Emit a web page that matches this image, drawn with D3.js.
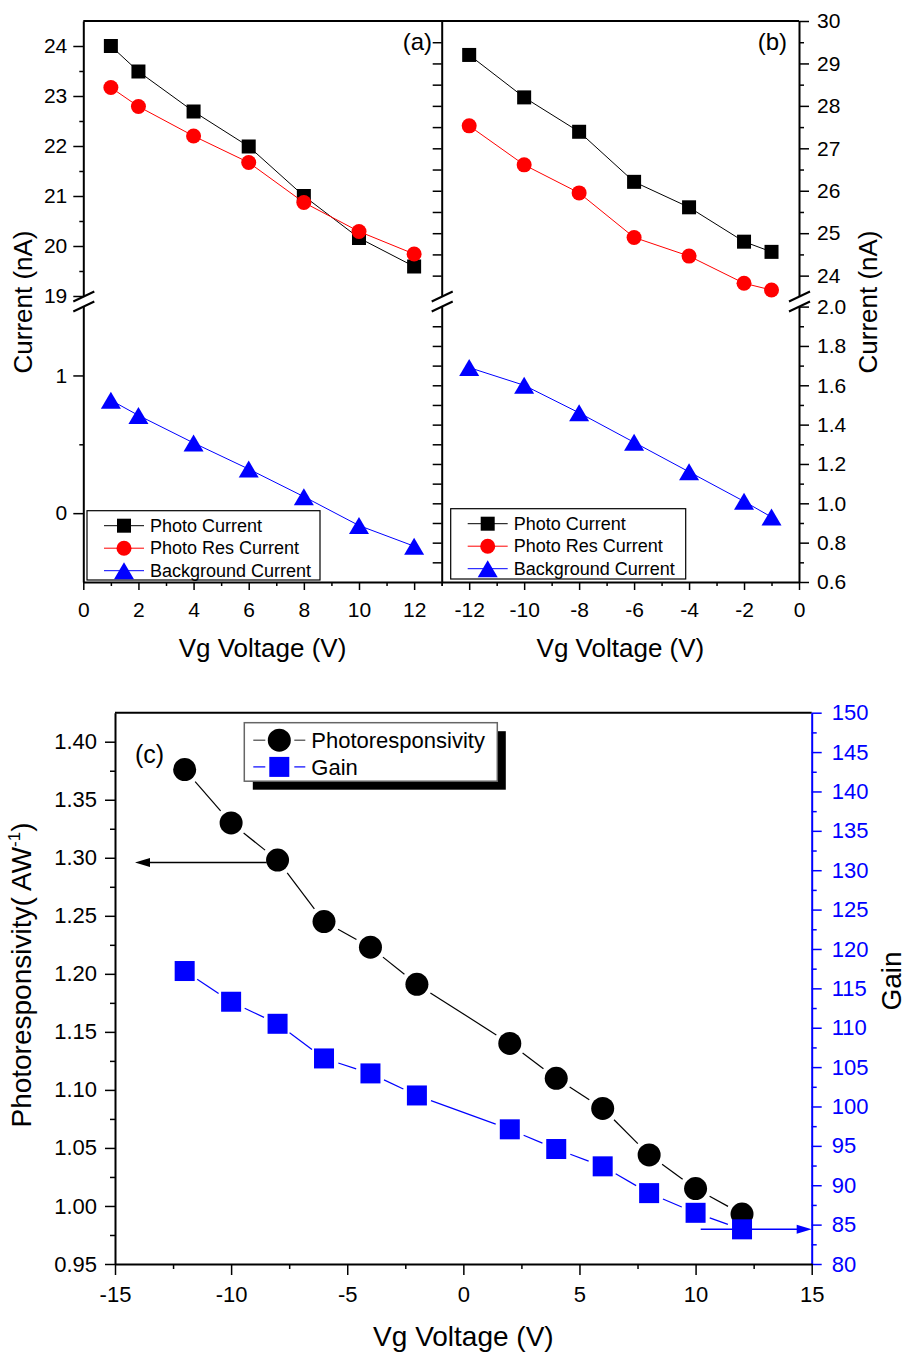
<!DOCTYPE html>
<html>
<head>
<meta charset="utf-8">
<script src="https://cdn.jsdelivr.net/npm/d3@7"></script>
<style>
  body { margin: 0; background: #fff; }
  svg { display: block; }
</style>
</head>
<body>
<svg id="chart" width="906" height="1354"></svg>
<script>
// ---- data ----
var vgA = [1, 2, 4, 6, 8, 10, 12];
var photoA = [24.0, 23.49, 22.69, 21.99, 21.0, 20.16, 19.59];
var resA = [23.17, 22.79, 22.2, 21.67, 20.87, 20.29, 19.84];
var bgA = [0.82, 0.71, 0.51, 0.32, 0.12, -0.09, -0.24];

var vgB = [-12, -10, -8, -6, -4, -2, -1];
var photoB = [29.2, 28.2, 27.39, 26.21, 25.61, 24.8, 24.56];
var resB = [27.53, 26.61, 25.95, 24.9, 24.46, 23.82, 23.66];
var bgB = [1.69, 1.6, 1.46, 1.31, 1.16, 1.01, 0.93];

var vgC = [-12, -10, -8, -6, -4, -2, 2, 4, 6, 8, 10, 12];
var respC = [1.376, 1.330, 1.298, 1.245, 1.223, 1.191, 1.140, 1.110, 1.084, 1.044, 1.015, 0.993];
var gainC = [117.2, 113.3, 110.5, 106.1, 104.2, 101.4, 97.1, 94.6, 92.4, 89.0, 86.5, 84.4];

var legendAB = ["Photo Current", "Photo Res Current", "Background Current"];
var legendC = ["Photoresponsivity", "Gain"];

var xTicksA = [0, 2, 4, 6, 8, 10, 12];
var xTicksB = [-12, -10, -8, -6, -4, -2, 0];
var yTicksAU = [19, 20, 21, 22, 23, 24];
var yTicksAL = [0, 1];
var yTicksBU = [24, 25, 26, 27, 28, 29, 30];
var yTicksBL = [0.6, 0.8, 1.0, 1.2, 1.4, 1.6, 1.8, 2.0];
var xTicksC = [-15, -10, -5, 0, 5, 10, 15];
var yTicksCL = [0.95, 1.00, 1.05, 1.10, 1.15, 1.20, 1.25, 1.30, 1.35, 1.40];
var yTicksCR = [80, 85, 90, 95, 100, 105, 110, 115, 120, 125, 130, 135, 140, 145, 150];

var FONT = '"Liberation Sans", Arial, Helvetica, sans-serif';
var svg = d3.select("#chart");

// ---- scales ----
var xA = d3.scaleLinear().domain([0, 13]).range([83.3, 441.7]);
var xB = d3.scaleLinear().domain([-13, 0]).range([441.7, 799]);
var yAU = d3.scaleLinear().domain([19, 24.5]).range([296, 21]);
var yAL = d3.scaleLinear().domain([-0.5, 1.5]).range([582, 306.6]);
var yBU = d3.scaleLinear().domain([23.52, 30]).range([296, 21]);
var yBL = d3.scaleLinear().domain([0.6, 2.0]).range([582, 306.6]);

var xC = d3.scaleLinear().domain([-15, 15]).range([115, 811.7]);
var yCL = d3.scaleLinear().domain([0.95, 1.425]).range([1264, 712.7]);
var yCR = d3.scaleLinear().domain([80, 150]).range([1264, 712.7]);

function hyph(d) { return d < 0 ? "-" + Math.abs(d) : String(d); }

function styleAxis(sel, fs, color) {
  sel.attr("font-family", FONT).attr("font-size", fs);
  sel.select(".domain").attr("stroke", color).attr("stroke-width", 2);
  sel.selectAll(".tick line").attr("stroke", color).attr("stroke-width", 1.5);
  sel.selectAll(".tick text").attr("fill", color);
  return sel;
}
function addAxis(axis, tx, ty, fs, color) {
  var g = svg.append("g").attr("transform", "translate(" + tx + "," + ty + ")").call(axis);
  return styleAxis(g, fs, color || "#000");
}
function addMinor(axis, tx, ty, color) {
  var g = svg.append("g").attr("transform", "translate(" + tx + "," + ty + ")").call(axis);
  g.select(".domain").remove();
  g.selectAll(".tick line").attr("stroke", color || "#000").attr("stroke-width", 1.5);
  return g;
}
function range2(a, b, s) { return d3.range(0, Math.round((b - a) / s) + 1).map(function(i) { return +(a + i * s).toFixed(4); }); }

// ---- panels (a) and (b) axes ----
var axLeftA = xA.range()[0], axMid = xA.range()[1], axRightB = xB.range()[1];

// top border
svg.append("line").attr("x1", axLeftA).attr("x2", axRightB).attr("y1", 21).attr("y2", 21)
  .attr("stroke", "#000").attr("stroke-width", 2);

// (a) left axis, upper and lower pieces
addAxis(d3.axisLeft(yAU).tickValues(yTicksAU).tickSize(10).tickSizeOuter(0).tickPadding(6).tickFormat(hyph), axLeftA, 0, 21);
addMinor(d3.axisLeft(yAU).tickValues([19.5, 20.5, 21.5, 22.5, 23.5]).tickSize(4).tickFormat(""), axLeftA, 0);
addAxis(d3.axisLeft(yAL).tickValues(yTicksAL).tickSize(10).tickSizeOuter(0).tickPadding(6).tickFormat(hyph), axLeftA, 0, 21);
addMinor(d3.axisLeft(yAL).tickValues([0.5]).tickSize(4).tickFormat(""), axLeftA, 0);

// shared line: (b) scale, ticks pointing left
addAxis(d3.axisLeft(yBU).tickValues(range2(24, 29.5, 0.5)).tickSize(9).tickSizeOuter(0).tickFormat(""), axMid, 0, 21);
addAxis(d3.axisLeft(yBL).tickValues(range2(0.7, 1.9, 0.1)).tickSize(9).tickSizeOuter(0).tickFormat(""), axMid, 0, 21);

// (b) right axis
addAxis(d3.axisRight(yBU).tickValues(yTicksBU).tickSize(10).tickSizeOuter(0).tickPadding(8).tickFormat(hyph), axRightB, 0, 21);
addMinor(d3.axisRight(yBU).tickValues(range2(24.5, 29.5, 1)).tickSize(5).tickFormat(""), axRightB, 0);
addAxis(d3.axisRight(yBL).tickValues(yTicksBL).tickSize(10).tickSizeOuter(0).tickPadding(8).tickFormat(d3.format(".1f")), axRightB, 0, 21);
addMinor(d3.axisRight(yBL).tickValues(range2(0.7, 1.9, 0.2)).tickSize(5).tickFormat(""), axRightB, 0);

// bottom axes
addAxis(d3.axisBottom(xA).tickValues(xTicksA).tickSize(8).tickSizeOuter(0).tickPadding(12).tickFormat(hyph), 0, 582, 21);
addMinor(d3.axisBottom(xA).tickValues([1, 3, 5, 7, 9, 11, 13]).tickSize(4).tickFormat(""), 0, 582);
addAxis(d3.axisBottom(xB).tickValues(xTicksB).tickSize(8).tickSizeOuter(0).tickPadding(12).tickFormat(hyph), 0, 582, 21);
addMinor(d3.axisBottom(xB).tickValues([-13, -11, -9, -7, -5, -3, -1]).tickSize(4).tickFormat(""), 0, 582);

// axis break marks
[axLeftA, axMid, axRightB].forEach(function(x) {
  [296.5, 306.5].forEach(function(y) {
    svg.append("line").attr("x1", x - 10).attr("y1", y + 5).attr("x2", x + 11).attr("y2", y - 5)
      .attr("stroke", "#000").attr("stroke-width", 2);
  });
});

// ---- markers ----
function marker(g, shape, cx, cy, color, s) {
  if (shape === "square") {
    g.append("rect").attr("x", cx - s / 2).attr("y", cy - s / 2).attr("width", s).attr("height", s).attr("fill", color);
  } else if (shape === "circle") {
    g.append("circle").attr("cx", cx).attr("cy", cy).attr("r", s / 2).attr("fill", color);
  } else {
    var h = s * 0.85;
    g.append("path").attr("d", "M" + cx + "," + (cy - h / 2) + "L" + (cx + s / 2) + "," + (cy + h / 2) + "L" + (cx - s / 2) + "," + (cy + h / 2) + "Z")
      .attr("fill", color);
  }
}

function series(xs, ys, x, y, color, shape, size) {
  var g = svg.append("g");
  var pts = xs.map(function(v, i) { return [x(v), y(ys[i])]; });
  g.append("path").attr("d", d3.line()(pts)).attr("fill", "none").attr("stroke", color).attr("stroke-width", 1);
  pts.forEach(function(p) { marker(g, shape, p[0], p[1], color, size); });
}

series(vgA, photoA, xA, yAU, "#000", "square", 14);
series(vgA, resA, xA, yAU, "#ff0000", "circle", 15);
series(vgA, bgA, xA, yAL, "#0000ff", "triangle", 20);

series(vgB, photoB, xB, yBU, "#000", "square", 14);
series(vgB, resB, xB, yBU, "#ff0000", "circle", 15);
series(vgB, bgB, xB, yBL, "#0000ff", "triangle", 20);

// ---- legends (a), (b) ----
var legStyle = [["#000", "square", 14], ["#ff0000", "circle", 15], ["#0000ff", "triangle", 20]];
function legendAB_(x0, y0, w, h) {
  var g = svg.append("g");
  g.append("rect").attr("x", x0).attr("y", y0).attr("width", w).attr("height", h)
    .attr("fill", "#fff").attr("stroke", "#000").attr("stroke-width", 1.2);
  legendAB.forEach(function(name, i) {
    var cy = y0 + 15 + i * 22.5;
    var st = legStyle[i];
    g.append("line").attr("x1", x0 + 17).attr("x2", x0 + 57).attr("y1", cy).attr("y2", cy)
      .attr("stroke", st[0]).attr("stroke-width", 1);
    marker(g, st[1], x0 + 37, cy, st[0], st[2]);
    g.append("text").attr("x", x0 + 63).attr("y", cy + 6).attr("font-family", FONT).attr("font-size", 18)
      .text(name);
  });
}
legendAB_(87, 510.7, 233, 69.3);
legendAB_(450.7, 508.7, 235, 70.3);

// ---- titles (a), (b) ----
function txt(x, y, s, fs, anchor, rot, color) {
  var t = svg.append("text").attr("font-family", FONT).attr("font-size", fs)
    .attr("text-anchor", anchor || "start").attr("fill", color || "#000").text(s);
  if (rot) t.attr("transform", "translate(" + x + "," + y + ") rotate(" + rot + ")");
  else t.attr("x", x).attr("y", y);
  return t;
}
txt(262.5, 657, "Vg Voltage (V)", 26, "middle");
txt(620.4, 657, "Vg Voltage (V)", 26, "middle");
txt(32, 302, "Current (nA)", 26, "middle", -90);
txt(877, 302, "Current (nA)", 26, "middle", -90);
txt(432, 50, "(a)", 24, "end");
txt(787, 50, "(b)", 24, "end");

// ---- panel (c) ----
var cl = xC.range()[0], cr = xC.range()[1], ct = yCL.range()[1], cb = yCL.range()[0];
svg.append("line").attr("x1", cl).attr("x2", cr).attr("y1", ct).attr("y2", ct).attr("stroke", "#000").attr("stroke-width", 2);

addAxis(d3.axisLeft(yCL).tickValues(yTicksCL).tickSize(10).tickSizeOuter(0).tickPadding(8).tickFormat(d3.format(".2f")), cl, 0, 22);
addMinor(d3.axisLeft(yCL).tickValues(range2(0.975, 1.375, 0.05)).tickSize(5).tickFormat(""), cl, 0);
addAxis(d3.axisRight(yCR).tickValues(yTicksCR).tickSize(10).tickSizeOuter(0).tickPadding(10).tickFormat(hyph), cr, 0, 22, "#0000ff");
addMinor(d3.axisRight(yCR).tickValues(range2(82.5, 147.5, 5)).tickSize(5).tickFormat(""), cr, 0, "#0000ff");
addAxis(d3.axisBottom(xC).tickValues(xTicksC).tickSize(11).tickSizeOuter(0).tickPadding(11).tickFormat(hyph), 0, cb, 22);
addMinor(d3.axisBottom(xC).tickValues(range2(-12.5, 12.5, 5)).tickSize(5).tickFormat(""), 0, cb);

function gapped(xs, ys, y, color, shape, size, gap) {
  var g = svg.append("g");
  var pts = xs.map(function(v, i) { return [xC(v), y(ys[i])]; });
  d3.pairs(pts).forEach(function(p) {
    var dx = p[1][0] - p[0][0], dy = p[1][1] - p[0][1], L = Math.hypot(dx, dy);
    var ux = dx / L, uy = dy / L;
    g.append("line")
      .attr("x1", p[0][0] + ux * gap).attr("y1", p[0][1] + uy * gap)
      .attr("x2", p[1][0] - ux * gap).attr("y2", p[1][1] - uy * gap)
      .attr("stroke", color).attr("stroke-width", 1.2);
  });
  pts.forEach(function(p) { marker(g, shape, p[0], p[1], color, size); });
}
gapped(vgC, respC, yCL, "#000", "circle", 23, 16);
gapped(vgC, gainC, yCR, "#0000ff", "square", 20, 15);

// arrows
function arrow(x1, x2, y, color) {
  var dir = x2 < x1 ? 1 : -1;
  svg.append("line").attr("x1", x1).attr("x2", x2 + dir * 10).attr("y1", y).attr("y2", y)
    .attr("stroke", color).attr("stroke-width", 1.5);
  svg.append("path").attr("d", "M" + x2 + "," + y + "L" + (x2 + dir * 15) + "," + (y - 4.5) + "L" + (x2 + dir * 15) + "," + (y + 4.5) + "Z")
    .attr("fill", color);
}
arrow(xC(-8.47), xC(-14.14), yCL(1.296), "#000");
arrow(xC(10.22), xC(15), yCR(84.4), "#0000ff");

// legend (c) with shadow
(function() {
  var x0 = 244.3, y0 = 722.7, w = 253, h = 58.5;
  var g = svg.append("g");
  g.append("rect").attr("x", x0 + 8.5).attr("y", y0 + 8.5).attr("width", w).attr("height", h).attr("fill", "#000");
  g.append("rect").attr("x", x0).attr("y", y0).attr("width", w).attr("height", h)
    .attr("fill", "#fff").attr("stroke", "#666").attr("stroke-width", 1.5);
  var st = [["#000", "circle", 23, "#444"], ["#0000ff", "square", 20, "#0000ff"]];
  legendC.forEach(function(name, i) {
    var cy = y0 + 17.5 + i * 26.7, mx = x0 + 35;
    g.append("line").attr("x1", x0 + 9).attr("x2", mx - 14).attr("y1", cy).attr("y2", cy).attr("stroke", st[i][3]).attr("stroke-width", 1.2);
    g.append("line").attr("x1", mx + 15).attr("x2", x0 + 61).attr("y1", cy).attr("y2", cy).attr("stroke", st[i][3]).attr("stroke-width", 1.2);
    marker(g, st[i][1], mx, cy, st[i][0], st[i][2]);
    g.append("text").attr("x", x0 + 67).attr("y", cy + 8).attr("font-family", FONT).attr("font-size", 22).text(name);
  });
})();

// titles (c)
txt(463.4, 1346, "Vg Voltage (V)", 28, "middle");
var yt = txt(31, 975, "Photoresponsivity( AW", 28, "middle", -90);
yt.append("tspan").attr("font-size", 17).attr("dy", -11).text("-1");
yt.append("tspan").attr("dy", 11).text(")");
txt(901, 981, "Gain", 28, "middle", -90);
txt(135, 763, "(c)", 25, "start");
</script>
</body>
</html>
